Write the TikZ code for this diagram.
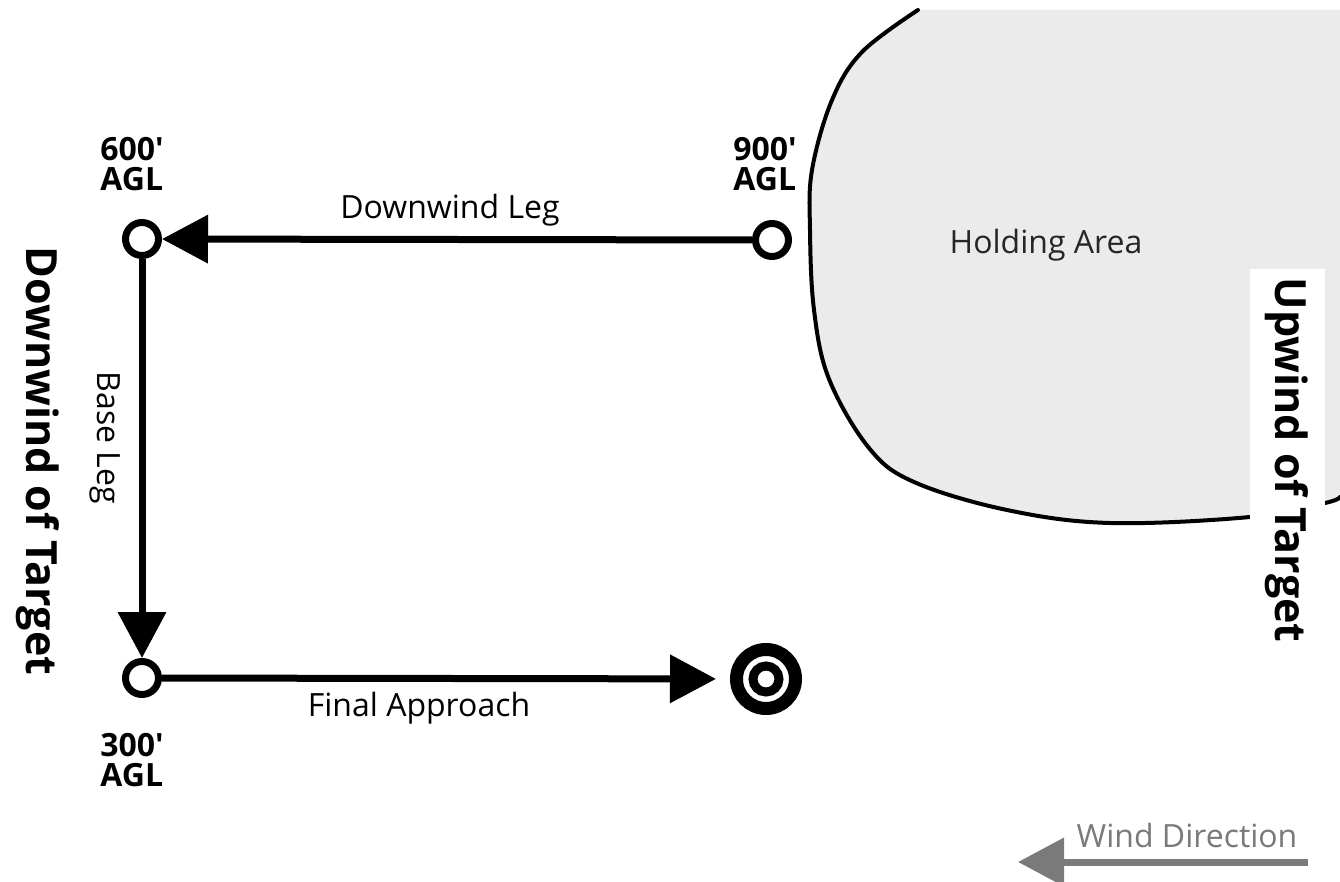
\documentclass[tikz,border=0pt]{standalone}
\usepackage{fontspec}
\setmainfont{Open Sans}[Ligatures=TeXOff]
\usetikzlibrary{arrows.meta}
\definecolor{holdgray}{HTML}{EBEBEB}
\definecolor{windgray}{HTML}{7A7A7A}
\tikzset{
  waypt/.style={circle,draw=black,fill=white,line width=3.5pt,minimum size=16.5pt,inner sep=0pt},
  leg/.style={line width=3.5pt,-{Triangle[length=23pt,width=23.5pt]}},
  alt/.style={font=\fontsize{16}{15}\selectfont\bfseries,align=left,inner sep=0pt},
  leglabel/.style={font=\fontsize{16}{18}\selectfont,inner sep=0pt},
  side/.style={font=\fontsize{21.5}{24}\selectfont\bfseries,rotate=-90,inner sep=0pt},
}
\begin{document}
\begin{tikzpicture}[x=0.5pt,y=-0.5pt]
\useasboundingbox (0,0) rectangle (1340,882);
\fill[white] (0,0) rectangle (1340,882);
% holding area
\fill[holdgray] plot[smooth,tension=0.6] coordinates {(918,10) (862,52) (832,100) (812,170) (810,230) (814,310) (829,379) (869,448) (914,482) (1007,510) (1110,523) (1250,517) (1325,503) (1340,497)} -- (1340,10) -- cycle;
\draw[line width=2pt,line cap=round] plot[smooth,tension=0.6] coordinates {(918,10) (862,52) (832,100) (812,170) (810,230) (814,310) (829,379) (869,448) (914,482) (1007,510) (1110,523) (1250,517) (1325,503) (1340,497)};
\fill[white] (1250,269) rectangle (1325,660);
\node[leglabel,text=black!85] (hold) at (1046,245) {Holding Area};
\node[side] (up) at (1287,460) {Upwind of Target};
% waypoints
\node[waypt] (p600) at (142,239) {};
\node[waypt] (p900) at (772,240) {};
\node[waypt] (p300) at (142,678) {};
\node[circle,draw=black,line width=6.5pt,minimum size=29.5pt,inner sep=0pt] (tgt) at (766,679) {};
\node[circle,draw=black,line width=4.5pt,minimum size=13pt,inner sep=0pt] (bull) at (tgt) {};
% legs
\draw[leg] (p900) -- (p600);
\draw[leg] (p600) -- (p300);
\draw[leg,shorten >=7pt] (p300) -- (tgt);
% labels
\node[alt,anchor=north west] (l600) at (100,137) {600'\\AGL};
\node[alt,anchor=north west] (l900) at (733,137) {900'\\AGL};
\node[alt,anchor=north west] (l300) at (100,733) {300'\\AGL};
\node[leglabel] (dwl) at (450,210) {Downwind Leg};
\node[leglabel] (fa) at (419,708) {Final Approach};
\node[leglabel,rotate=-90] (bl) at (105,438) {Base Leg};
\node[side] (down) at (38,461) {Downwind of Target};
% wind
\coordinate (w1) at (1308,862);
\coordinate (w2) at (1018,862);
\draw[windgray,line width=3.5pt,-{Triangle[length=23pt,width=23.5pt]}] (w1) -- (w2);
\node[leglabel,text=windgray] (wd) at (1187,835) {Wind Direction};
\end{tikzpicture}
\end{document}
